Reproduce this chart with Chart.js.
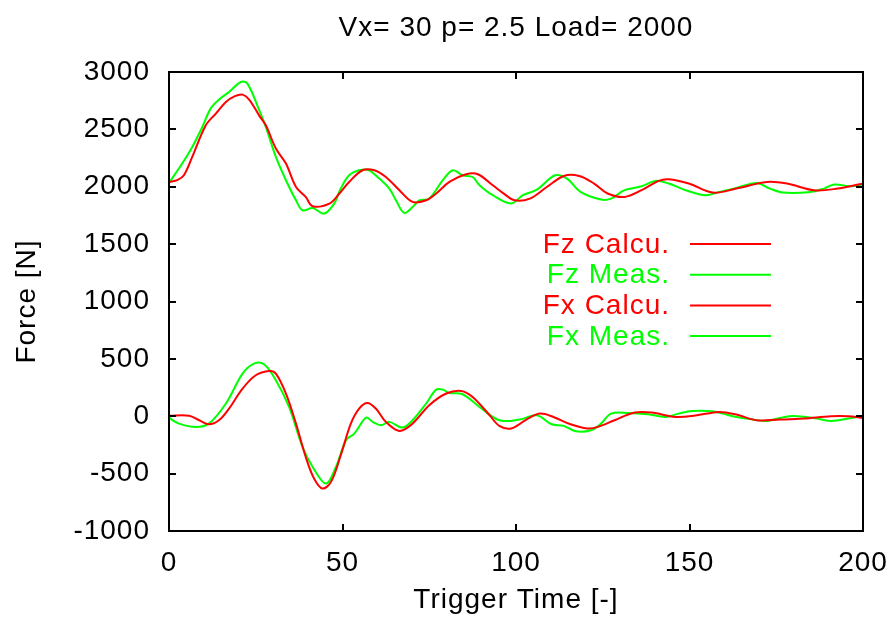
<!DOCTYPE html>
<html>
<head>
<meta charset="utf-8">
<script src="https://cdn.jsdelivr.net/npm/chart.js@4"></script>
<style>
  html, body { margin: 0; padding: 0; background: #fff; }
  canvas { display: block; }
</style>
</head>
<body>
<canvas id="chart" width="890" height="626"></canvas>
<script>
// values
const fzCalcT = [0, 2.5, 4.3, 6.7, 10.6, 13.5, 16.4, 19, 21.2, 23.1, 26, 27.9, 30.8, 33.7, 36.6, 39.4, 41.4, 46.2, 49.1, 51.9, 55.8, 59.2, 62.5, 66.4, 70.2, 74.1, 77, 80.8, 85.6, 89, 93.3, 96.5, 99.6, 104, 108.9, 113.8, 118.2, 122.5, 126.4, 131.3, 136.2, 141.1, 144, 149.8, 156.7, 163.5, 172.3, 178.1, 185.9, 192.7, 198.6, 200]
const fzCalc = [2040, 2060, 2100, 2260, 2536, 2638, 2739, 2790, 2803, 2760, 2620, 2536, 2333, 2202, 1998, 1911, 1830, 1853, 1941, 2042, 2144, 2144, 2085, 1970, 1868, 1882, 1941, 2042, 2109, 2109, 2013, 1940, 1882, 1897, 1998, 2094, 2094, 2028, 1941, 1911, 1970, 2051, 2065, 2028, 1949, 1984, 2042, 2028, 1970, 1984, 2019, 2025]

const fzMeasT = [0, 3.8, 6.7, 9.6, 12, 14.4, 17.3, 20.7, 22.6, 26, 27.9, 30.8, 33.7, 36.6, 38.5, 41.4, 44.7, 47.6, 49.5, 51.9, 54.8, 57.6, 60.6, 63.5, 65.4, 67.8, 70.2, 72.1, 75, 78.9, 81.8, 84.6, 87.5, 89.5, 93.3, 98.6, 102, 106, 111.3, 114.7, 118.6, 124.5, 127.4, 131.3, 136.2, 140.1, 144, 148.9, 154.7, 158.6, 163.5, 169.3, 173.2, 177.1, 184.9, 188.8, 191.7, 196.6, 200]
const fzMeas = [2033, 2202, 2347, 2521, 2681, 2759, 2826, 2913, 2899, 2667, 2521, 2260, 2057, 1882, 1795, 1815, 1766, 1853, 1984, 2100, 2144, 2144, 2071, 1984, 1882, 1772, 1824, 1882, 1897, 2057, 2144, 2100, 2085, 2013, 1926, 1855, 1926, 1975, 2100, 2071, 1955, 1888, 1897, 1970, 2004, 2051, 2028, 1970, 1926, 1955, 1989, 2033, 1984, 1949, 1955, 1984, 2019, 2004, 2019]

const fxCalcT = [0, 5.8, 8.7, 11.5, 14.4, 17.3, 21.2, 25, 28.9, 30.8, 33.7, 36.6, 39.4, 41.8, 44.2, 46.7, 49.5, 52.4, 54.8, 57.2, 59.6, 62.5, 66.4, 70.2, 75, 79.9, 84.2, 87.5, 92.4, 95.2, 98.6, 103, 106.9, 110.8, 115.7, 120.6, 123.4, 128.4, 134.2, 139.1, 145.9, 151.7, 158.6, 163.5, 169.3, 176.1, 182.9, 190.8, 195.7, 200]
const fxCalc = [5, 5, -35, -70, -35, 67, 241, 357, 395, 372, 198, -64, -355, -543, -630, -572, -340, -64, 67, 116, 67, -49, -128, -64, 96, 198, 221, 168, 9, -84, -107, -29, 23, -6, -70, -107, -95, -35, 32, 32, -6, 6, 38, 15, -35, -29, -20, 0, 0, -15]

const fxMeasT = [0, 2.9, 7.7, 11.5, 16.4, 21.2, 24.5, 27.4, 30.8, 34.6, 38.5, 41.4, 45.2, 48.1, 51, 53.4, 56.8, 58.7, 61.1, 63.5, 67.3, 70.2, 74.1, 77, 78.9, 80.8, 84.6, 89.5, 95.2, 101, 106, 110.3, 113.7, 117.2, 121.6, 124.5, 127.4, 132.3, 138.1, 143, 146.9, 150.8, 156.6, 159.6, 163.5, 168.3, 172.3, 176.1, 180, 186.8, 190.8, 196.6, 200]
const fxMeas = [-15, -64, -93, -64, 111, 372, 459, 453, 314, 81, -268, -442, -587, -442, -209, -151, -12, -49, -78, -49, -99, -35, 111, 232, 232, 203, 192, 81, -35, -29, 9, -70, -84, -131, -122, -64, 23, 29, 17, -6, 23, 46, 44, 23, -6, -29, -41, -15, 3, -20, -41, -15, 0]

const seriesLabels = ["Fz Calcu.", "Fz Meas.", "Fx Calcu.", "Fx Meas."]
const xTicks = [0, 50, 100, 150, 200]
const yTicks = [-1000, -500, 0, 500, 1000, 1500, 2000, 2500, 3000]
const chartTitle = "Vx= 30 p= 2.5 Load= 2000"

const RED = "#ff0000"
const GREEN = "#00ff00"
const FONT = "'Liberation Sans', Arial, Helvetica, sans-serif"
const SIZE = 28
const SPACING = "1px"

const toPoints = (xs, ys) => xs.map((x, i) => ({ x: x, y: ys[i] }))

function lineSet(label, xs, ys, color) {
  return {
    label: label,
    data: toPoints(xs, ys),
    borderColor: color,
    backgroundColor: color,
    borderWidth: 2,
    pointRadius: 0,
    tension: 0.35,
    fill: false
  }
}

// the gnuplot text looks a bit wider than plain Helvetica
const spacingPlugin = {
  id: "spacing",
  beforeLayout(chart) { chart.ctx.letterSpacing = SPACING },
  beforeDraw(chart) { chart.ctx.letterSpacing = SPACING }
}

// gnuplot style frame: full box with inward ticks on all four sides, title over the plot
const framePlugin = {
  id: "frame",
  afterDraw(chart) {
    const { ctx, chartArea: a, scales } = chart
    const len = 7
    ctx.save()
    ctx.strokeStyle = "#000"
    ctx.lineWidth = 2
    ctx.beginPath()
    scales.x.ticks.forEach(t => {
      const px = Math.round(scales.x.getPixelForValue(t.value))
      ctx.moveTo(px, a.bottom); ctx.lineTo(px, a.bottom - len)
      ctx.moveTo(px, a.top); ctx.lineTo(px, a.top + len)
    })
    scales.y.ticks.forEach(t => {
      const py = Math.round(scales.y.getPixelForValue(t.value))
      ctx.moveTo(a.left, py); ctx.lineTo(a.left + len, py)
      ctx.moveTo(a.right, py); ctx.lineTo(a.right - len, py)
    })
    ctx.stroke()
    ctx.strokeRect(a.left, a.top, a.right - a.left, a.bottom - a.top)

    ctx.fillStyle = "#000"
    ctx.font = SIZE + "px " + FONT
    ctx.textAlign = "center"
    ctx.textBaseline = "middle"
    ctx.fillText(chartTitle, (a.left + a.right) / 2, 28)
    ctx.restore()
  }
}

// legend inside the plot: right aligned text, then a line sample
const keyPlugin = {
  id: "key",
  afterDraw(chart) {
    const { ctx } = chart
    const textRight = 670, lineLeft = 690, lineRight = 771
    const rowTop = 244, rowStep = 30.7
    ctx.save()
    ctx.font = SIZE + "px " + FONT
    ctx.textAlign = "right"
    ctx.textBaseline = "middle"
    chart.data.datasets.forEach((ds, i) => {
      const y = rowTop + i * rowStep
      ctx.fillStyle = ds.borderColor
      ctx.fillText(ds.label, textRight, y + 1)
      ctx.strokeStyle = ds.borderColor
      ctx.lineWidth = 2
      ctx.beginPath()
      ctx.moveTo(lineLeft, y)
      ctx.lineTo(lineRight, y)
      ctx.stroke()
    })
    ctx.restore()
  }
}

const ctx = document.getElementById("chart").getContext("2d")

new Chart(ctx, {
  type: "line",
  data: {
    datasets: [
      lineSet(seriesLabels[0], fzCalcT, fzCalc, RED),
      lineSet(seriesLabels[1], fzMeasT, fzMeas, GREEN),
      lineSet(seriesLabels[2], fxCalcT, fxCalc, RED),
      lineSet(seriesLabels[3], fxMeasT, fxMeas, GREEN)
    ]
  },
  options: {
    responsive: false,
    animation: false,
    layout: { padding: { left: 0, right: 27, top: 72, bottom: 0 } },
    scales: {
      x: {
        type: "linear",
        min: xTicks[0],
        max: xTicks[xTicks.length - 1],
        afterBuildTicks: s => { s.ticks = xTicks.map(v => ({ value: v })) },
        afterFit: s => { s.height = 95; s.paddingLeft = 0; s.paddingRight = 0 },
        grid: { display: false, drawTicks: false },
        border: { display: false },
        ticks: {
          color: "#000",
          padding: 15,
          maxRotation: 0,
          callback: v => String(v),
          font: { family: FONT, size: SIZE }
        },
        title: {
          display: true,
          text: "Trigger Time [-]",
          color: "#000",
          padding: { top: 0, bottom: 9 },
          font: { family: FONT, size: SIZE }
        }
      },
      y: {
        type: "linear",
        min: yTicks[0],
        max: yTicks[yTicks.length - 1],
        afterBuildTicks: s => { s.ticks = yTicks.map(v => ({ value: v })) },
        afterFit: s => { s.width = 169; s.paddingTop = 0; s.paddingBottom = 0 },
        grid: { display: false, drawTicks: false },
        border: { display: false },
        ticks: {
          color: "#000",
          padding: 19,
          callback: v => String(v),
          font: { family: FONT, size: SIZE }
        },
        title: {
          display: true,
          text: "Force [N]",
          color: "#000",
          padding: { top: 10, bottom: 0 },
          font: { family: FONT, size: SIZE }
        }
      }
    },
    plugins: {
      legend: { display: false },
      tooltip: { enabled: false },
      title: { display: false }
    }
  },
  plugins: [spacingPlugin, framePlugin, keyPlugin]
})
</script>
</body>
</html>
